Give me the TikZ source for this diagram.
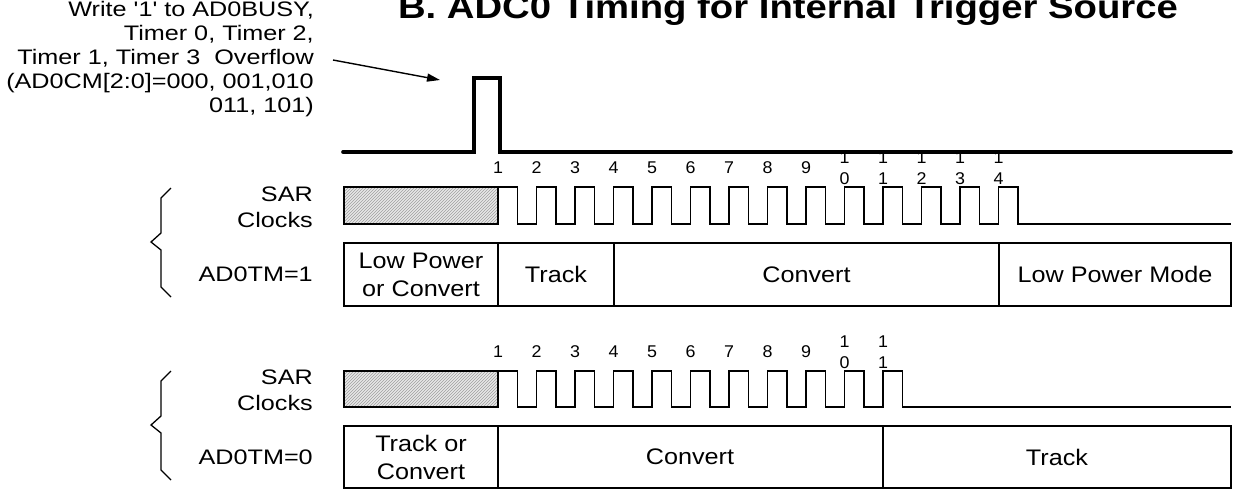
\documentclass[tikz,border=0pt]{standalone}
\usepackage{fontspec}
\setmainfont{Liberation Sans}
\usetikzlibrary{arrows.meta,patterns}
\begin{document}
\begin{tikzpicture}[x=1pt,y=-1pt,
  titletxt/.style={font=\bfseries\fontsize{33}{34}\selectfont, xscale=1.16, inner sep=0pt, anchor=base},
  lefttxt/.style={font=\fontsize{21}{24}\selectfont, xscale=1.2, inner sep=0pt, anchor=base east},
  celltxt/.style={font=\fontsize{22.5}{28}\selectfont, xscale=1.12, inner sep=0pt, align=center},
  numtxt/.style={font=\fontsize{17}{21}\selectfont, xscale=1.05, inner sep=0pt, align=center},
  trig/.style={line width=3.6pt, line cap=round, line join=miter},
  sig/.style={line width=1.3pt, line join=miter},
  hatchbox/.style={draw, line width=1.3pt, pattern=north east lines, pattern color=gray!75, preaction={fill=gray!18}},
  brace/.style={line width=1.3pt, line join=miter},
  arr/.style={line width=1.4pt, -{Triangle[length=13pt,width=8pt]}}]
\useasboundingbox (0,0) rectangle (1235,491);

% title
\node[titletxt] (title) at (788,18) {B. ADC0 Timing for Internal Trigger Source};

% trigger description
\node[lefttxt] (w1) at (314,16) {Write \textquotesingle 1\textquotesingle\ to AD0BUSY,};
\node[lefttxt] (w2) at (314,40) {Timer 0, Timer 2,};
\node[lefttxt] (w3) at (314,64) {Timer 1, Timer 3\ \ Overflow};
\node[lefttxt] (w4) at (314,88) {(AD0CM[2:0]=000, 001,010};
\node[lefttxt] (w5) at (314,112) {011, 101)};
\coordinate (aS) at (333,60);
\coordinate (aE) at (440,80);
\draw[arr] (aS) -- (aE);

% trigger pulse
\draw[trig] (343,152) -- (474,152) -- (474,78) -- (500,78) -- (500,152) -- (1231,152);

% ---------- AD0TM = 1 ----------
\draw[brace] (171,188) -- (161,198) -- (161,233) -- (151,242) -- (161,250) -- (161,287) -- (171,297);
\node[lefttxt] (s1a) at (313,201) {SAR};
\node[lefttxt] (s1b) at (313,227) {Clocks};
\node[lefttxt] (s1c) at (313,281) {AD0TM=1};

\draw[hatchbox] (344,187) rectangle (498,224);
\draw[sig] (498,224) \foreach \k in {0,...,13}{ -- ({498+38.5*\k},224) -- ({498+38.5*\k},187) -- ({517.5+38.5*\k},187) -- ({517.5+38.5*\k},224)} -- (1231,224);
\foreach \k in {1,...,9}{
  \node[numtxt] (n1-\k) at ({498+38.5*(\k-1)},168) {\k};}
\foreach \k/\d in {10/0,11/1,12/2,13/3,14/4}{
  \node[numtxt] (n1-\k) at ({498+38.5*(\k-1)},168.5) {1\\\d};}

\draw[sig] (344,243) rectangle (1231,306);
\draw[sig] (498,243) -- (498,306);
\draw[sig] (614,243) -- (614,306);
\draw[sig] (999,243) -- (999,306);
\node[celltxt] (b1a) at (421,274.5) {Low Power\\or Convert};
\node[celltxt] (b1b) at (556,274.5) {Track};
\node[celltxt] (b1c) at (806.5,274.5) {Convert};
\node[celltxt] (b1d) at (1115,274.5) {Low Power Mode};

% ---------- AD0TM = 0 ----------
\draw[brace] (171,371) -- (161,381) -- (161,416) -- (151,425) -- (161,433) -- (161,470) -- (171,480);
\node[lefttxt] (s2a) at (313,384) {SAR};
\node[lefttxt] (s2b) at (313,410) {Clocks};
\node[lefttxt] (s2c) at (313,464) {AD0TM=0};

\draw[hatchbox] (344,371) rectangle (498,407);
\draw[sig] (498,407) \foreach \k in {0,...,10}{ -- ({498+38.5*\k},407) -- ({498+38.5*\k},371) -- ({517.5+38.5*\k},371) -- ({517.5+38.5*\k},407)} -- (1231,407);
\foreach \k in {1,...,9}{
  \node[numtxt] (n2-\k) at ({498+38.5*(\k-1)},352) {\k};}
\foreach \k/\d in {10/0,11/1}{
  \node[numtxt] (n2-\k) at ({498+38.5*(\k-1)},352.5) {1\\\d};}

\draw[sig] (344,426) rectangle (1231,488);
\draw[sig] (498,426) -- (498,488);
\draw[sig] (883,426) -- (883,488);
\node[celltxt] (b2a) at (421,457) {Track or\\Convert};
\node[celltxt] (b2b) at (690,457) {Convert};
\node[celltxt] (b2c) at (1057,457) {Track};
\end{tikzpicture}
\end{document}
